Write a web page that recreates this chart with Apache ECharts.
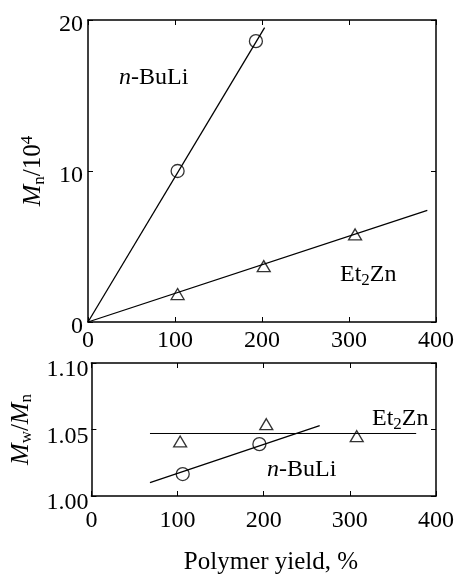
<!DOCTYPE html>
<html>
<head>
<meta charset="utf-8">
<script src="https://cdn.jsdelivr.net/npm/echarts@6/dist/echarts.min.js"></script>
<style>
  html, body { margin: 0; padding: 0; background: #fff; }
  #chart { width: 457px; height: 576px; }
</style>
</head>
<body>
<div id="chart"></div>
<script>
// Polymer yield (%) tick labels shared by both panels
var xTicks = [0, 100, 200, 300, 400];

// Upper panel: Mn / 10^4 versus polymer yield
var buliYield = [103, 193];
var buliMn = [10.0, 18.6];
var buliFitYield = [0, 203];
var buliFitMn = [0, 19.5];

var znYield = [103, 202, 307];
var znMn = [1.85, 3.7, 5.8];
var znFitYield = [0, 390];
var znFitMn = [0, 7.4];

// Lower panel: Mw/Mn versus polymer yield
var buliPdiYield = [106, 195];
var buliPdi = [1.0165, 1.039];
var buliPdiFitYield = [68, 265];
var buliPdiFit = [1.010, 1.053];

var znPdiYield = [103, 203, 308];
var znPdi = [1.041, 1.054, 1.045];
var znPdiFitYield = [68, 377];
var znPdiFit = [1.047, 1.047];

function pairs(xs, ys) { return xs.map(function (x, i) { return [x, ys[i]]; }); }

var FONT = '"Liberation Serif", "DejaVu Serif", serif';
var chart = echarts.init(document.getElementById('chart'), null, { renderer: 'canvas' });

var frameLine = { show: true, onZero: false, lineStyle: { color: '#000', width: 1.5 } };
var innerTick = { show: true, inside: true, length: 5, lineStyle: { color: '#000', width: 1 } };

function xAxisFor(gridIndex, pos, showLabels, margin) {
  return {
    type: 'value', gridIndex: gridIndex, position: pos,
    min: 0, max: 400, interval: 100,
    axisLine: frameLine, axisTick: innerTick,
    axisLabel: { show: showLabels, color: '#000', fontFamily: FONT, fontSize: 24, margin: margin,
      formatter: function (v) { return xTicks.indexOf(v) >= 0 ? String(v) : ''; } },
    splitLine: { show: false }
  };
}

function yAxisFor(gridIndex, pos, min, max, interval, label) {
  return {
    type: 'value', gridIndex: gridIndex, position: pos, min: min, max: max, interval: interval,
    axisLine: frameLine, axisTick: innerTick,
    axisLabel: label || { show: false },
    splitLine: { show: false }
  };
}

// y tick labels sit a little below their ticks
function yLabel(margin, drop, digits) {
  return {
    color: '#000', fontFamily: FONT, fontSize: 24, margin: margin,
    formatter: function (v) { return '{t|' + (digits ? v.toFixed(digits) : String(v)) + '}'; },
    rich: { t: { fontFamily: FONT, fontSize: 24, color: '#000', padding: [drop, 0, 0, 0] } }
  };
}

var titleRich = {
  i: { fontFamily: FONT, fontStyle: 'italic', fontSize: 26, color: '#000' },
  n: { fontFamily: FONT, fontSize: 25, color: '#000' },
  sub: { fontFamily: FONT, fontSize: 17, color: '#000', padding: [12, 0, 0, 0] },
  sup: { fontFamily: FONT, fontSize: 17, color: '#000', padding: [0, 0, 12, 0] }
};

var topY = yAxisFor(0, 'left', 0, 20, 10, yLabel(5, 10, 0));
topY.name = '{i|M}{sub|n}{n|/10}{sup|4}';
topY.nameLocation = 'middle';
topY.nameRotate = 90;
topY.nameGap = 31;
topY.nameTextStyle = { color: '#000', fontFamily: FONT, fontSize: 25, rich: titleRich };

var lowY = yAxisFor(1, 'left', 1.0, 1.1, 0.05, yLabel(3, 14, 2));
lowY.name = '{i|M}{sub|w}{n|/}{i|M}{sub|n}';
lowY.nameLocation = 'middle';
lowY.nameRotate = 90;
lowY.nameGap = 47;
lowY.nameTextStyle = { color: '#000', fontFamily: FONT, fontSize: 25, rich: titleRich };

var openMark = { color: 'rgba(0,0,0,0)', borderColor: '#000', borderWidth: 1.3 };

function label(x, y, text) {
  return {
    type: 'text', x: x, y: y,
    style: {
      text: text, fill: '#000', verticalAlign: 'middle',
      rich: {
        i: { fontFamily: FONT, fontStyle: 'italic', fontSize: 24, fill: '#000' },
        r: { fontFamily: FONT, fontSize: 24, fill: '#000' },
        s: { fontFamily: FONT, fontSize: 17, fill: '#000', padding: [11, 0, 0, 0] }
      }
    }
  };
}

var option = {
  backgroundColor: '#fff',
  animation: false,
  grid: [
    { left: 88, top: 20, width: 349, height: 302 },
    { left: 89, top: 363, width: 348, height: 133 }
  ],
  xAxis: [
    xAxisFor(0, 'bottom', true, 7),
    xAxisFor(0, 'top', false, 7),
    xAxisFor(1, 'bottom', true, 13),
    xAxisFor(1, 'top', false, 7)
  ],
  yAxis: [
    topY,
    yAxisFor(0, 'right', 0, 20, 10),
    lowY,
    yAxisFor(1, 'right', 1.0, 1.1, 0.05)
  ],
  series: [
    // upper panel fits
    { type: 'line', xAxisIndex: 0, yAxisIndex: 0, data: pairs(buliFitYield, buliFitMn),
      showSymbol: false, lineStyle: { color: '#000', width: 1.3 }, z: 2 },
    { type: 'line', xAxisIndex: 0, yAxisIndex: 0, data: pairs(znFitYield, znFitMn),
      showSymbol: false, lineStyle: { color: '#000', width: 1.3 }, z: 2 },
    // upper panel points
    { type: 'scatter', xAxisIndex: 0, yAxisIndex: 0, data: pairs(buliYield, buliMn),
      symbol: 'circle', symbolSize: 13, itemStyle: openMark, z: 3 },
    { type: 'scatter', xAxisIndex: 0, yAxisIndex: 0, data: pairs(znYield, znMn),
      symbol: 'triangle', symbolSize: [13, 11], itemStyle: openMark, z: 3 },
    // lower panel fits
    { type: 'line', xAxisIndex: 2, yAxisIndex: 2, data: pairs(buliPdiFitYield, buliPdiFit),
      showSymbol: false, lineStyle: { color: '#000', width: 1.3 }, z: 2 },
    { type: 'line', xAxisIndex: 2, yAxisIndex: 2, data: pairs(znPdiFitYield, znPdiFit),
      showSymbol: false, lineStyle: { color: '#000', width: 1 }, z: 2 },
    // lower panel points
    { type: 'scatter', xAxisIndex: 2, yAxisIndex: 2, data: pairs(buliPdiYield, buliPdi),
      symbol: 'circle', symbolSize: 13, itemStyle: openMark, z: 3 },
    { type: 'scatter', xAxisIndex: 2, yAxisIndex: 2, data: pairs(znPdiYield, znPdi),
      symbol: 'triangle', symbolSize: [13, 11], itemStyle: openMark, z: 3 }
  ],
  graphic: [
    label(119, 78, '{i|n}{r|-BuLi}'),
    label(340, 275, '{r|Et}{s|2}{r|Zn}'),
    label(372, 419, '{r|Et}{s|2}{r|Zn}'),
    label(267, 470, '{i|n}{r|-BuLi}'),
    { type: 'text', x: 271, y: 562, style: {
        text: 'Polymer yield, %', fill: '#000', fontFamily: FONT, fontSize: 25,
        align: 'center', verticalAlign: 'middle' } }
  ]
};

chart.setOption(option);
</script>
</body>
</html>
